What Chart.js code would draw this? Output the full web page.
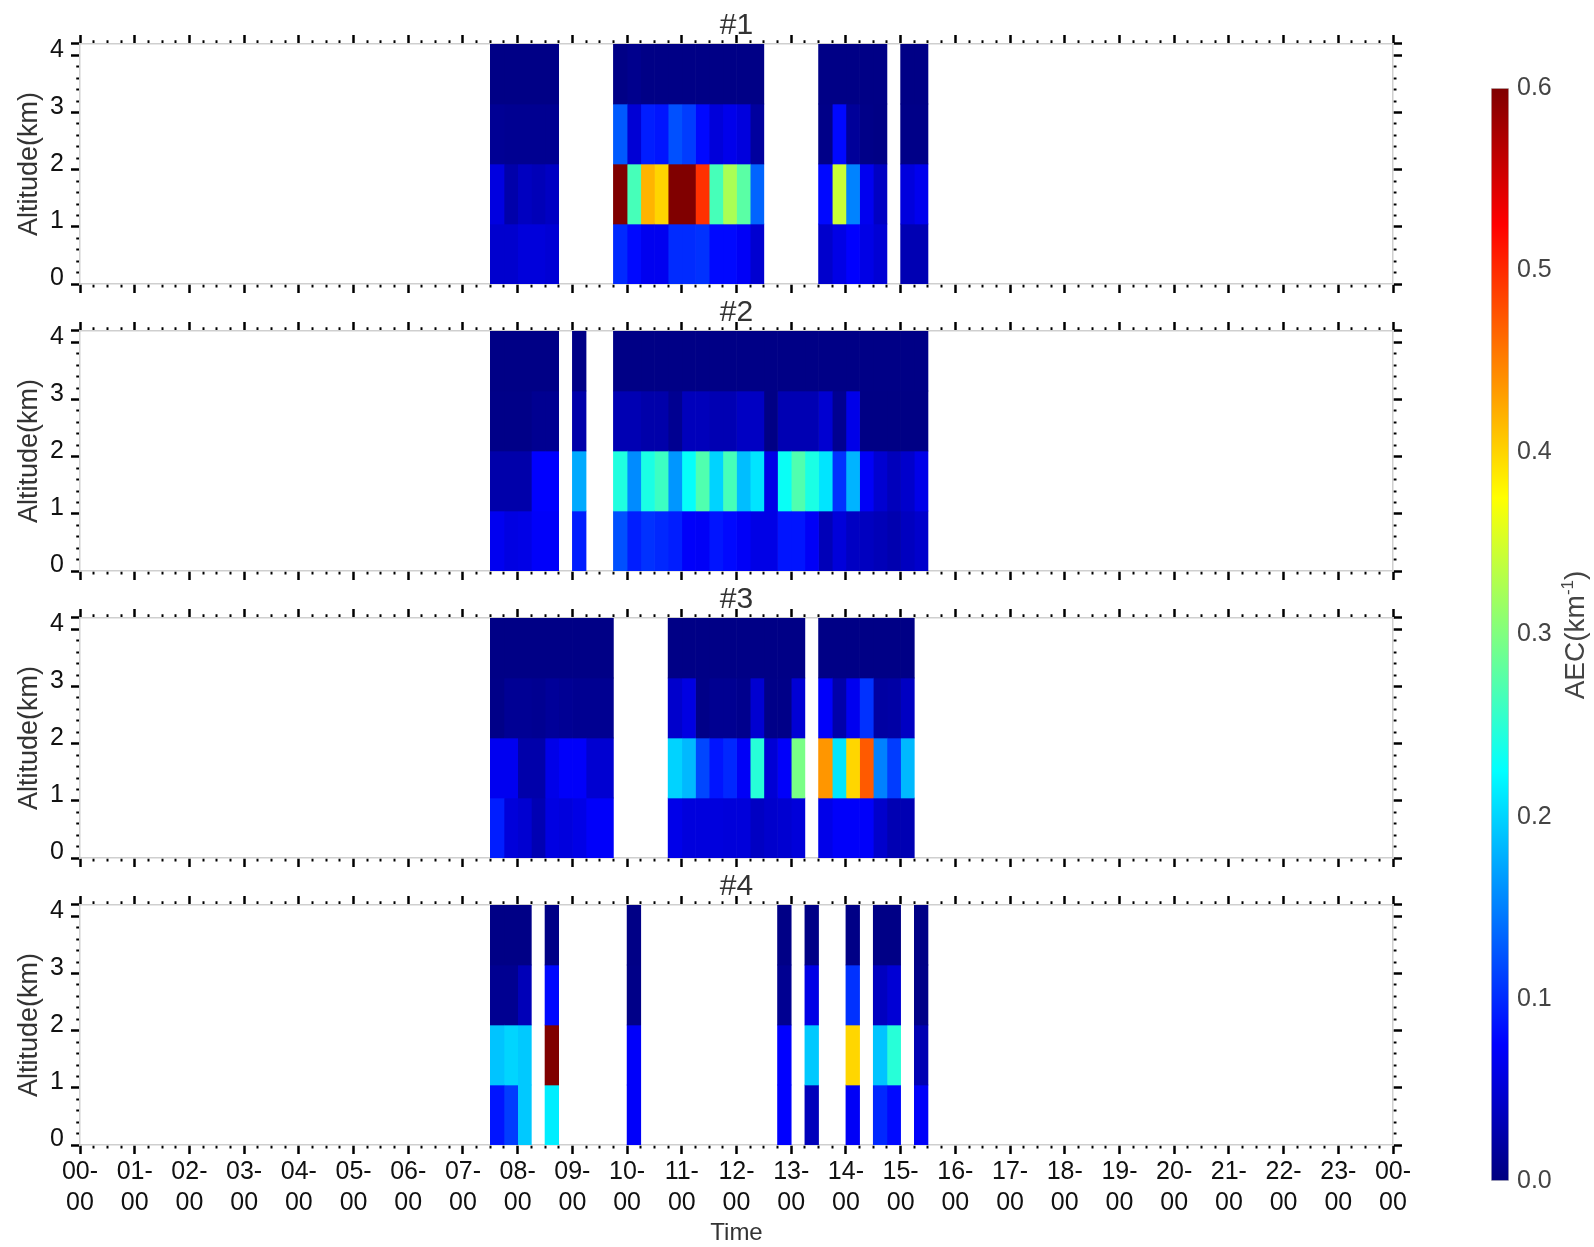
<!DOCTYPE html>
<html>
<head>
<meta charset="utf-8">
<script src="https://cdn.jsdelivr.net/npm/chart.js@4.4.1/dist/chart.umd.min.js"></script>
<style>
  html, body { margin: 0; padding: 0; background: #fff; }
  #wrap { position: relative; width: 1594px; height: 1247px; overflow: hidden; }
  canvas { position: absolute; }
  #cbLabel {
    position: absolute; left: 1475px; top: 620px; width: 200px; height: 30px;
    line-height: 30px; text-align: center; transform: rotate(-90deg);
    font-family: "Liberation Sans", Arial, sans-serif; font-size: 28px; color: #444;
  }
  #cbLabel sup { font-size: 17px; vertical-align: 11px; line-height: 0; }
</style>
</head>
<body>
<div id="wrap">
  <canvas id="p1" width="1594" height="306" style="left:0;top:0"></canvas>
  <canvas id="p2" width="1594" height="306" style="left:0;top:287px"></canvas>
  <canvas id="p3" width="1594" height="306" style="left:0;top:574px"></canvas>
  <canvas id="p4" width="1594" height="386" style="left:0;top:861px"></canvas>
  <canvas id="cb" width="154" height="1150" style="left:1440px;top:60px"></canvas>
  <div id="cbLabel">AEC(km<sup>-1</sup>)</div>
</div>
<script>
// tick labels / categories
const xTickLabels = ['00-00', '01-00', '02-00', '03-00', '04-00', '05-00', '06-00', '07-00',
    '08-00', '09-00', '10-00', '11-00', '12-00', '13-00', '14-00', '15-00', '16-00',
    '17-00', '18-00', '19-00', '20-00', '21-00', '22-00', '23-00', '00-00'];
const rowLabels = ['0-1 km', '1-2 km', '2-3 km', '3-4 km'];
const cbTicks = [0.0, 0.1, 0.2, 0.3, 0.4, 0.5, 0.6];
const slotLen = 0.25; // 15 min bins

// #1
const p1Slots = ['07:30', '07:45', '08:00', '08:15', '08:30',
    '09:45', '10:00', '10:15', '10:30', '10:45', '11:00', '11:15', '11:30', '11:45', '12:00', '12:15',
    '13:30', '13:45', '14:00', '14:15', '14:30', '15:00', '15:15'];
const p1Alt0 = [0.046, 0.046, 0.054, 0.054, 0.05,
    0.099, 0.08, 0.066, 0.066, 0.1, 0.1, 0.104, 0.08, 0.08, 0.07, 0.048,
    0.045, 0.06, 0.075, 0.06, 0.05, 0.03, 0.03];
const p1Alt1 = [0.057, 0.025, 0.038, 0.033, 0.04,
    0.6, 0.266, 0.419, 0.40, 0.6, 0.6, 0.496, 0.266, 0.325, 0.278, 0.134,
    0.08, 0.343, 0.152, 0.066, 0.04, 0.055, 0.065];
const p1Alt2 = [0.012, 0.01, 0.01, 0.01, 0.01,
    0.128, 0.05, 0.092, 0.087, 0.122, 0.11, 0.08, 0.053, 0.063, 0.055, 0.018,
    0.005, 0.08, 0.015, 0.005, 0.003, 0.005, 0.005];
const p1Alt3 = [0.004, 0.004, 0.004, 0.004, 0.004,
    0.004, 0.008, 0.004, 0.004, 0.004, 0.004, 0.004, 0.004, 0.004, 0.004, 0.004,
    0.004, 0.004, 0.004, 0.004, 0.004, 0.004, 0.004];

// #2
const p2Slots = ['07:30', '07:45', '08:00', '08:15', '08:30', '09:00',
    '09:45', '10:00', '10:15', '10:30', '10:45', '11:00', '11:15', '11:30', '11:45', '12:00', '12:15',
    '12:30', '12:45', '13:00', '13:15', '13:30', '13:45', '14:00', '14:15', '14:30', '14:45', '15:00', '15:15'];
const p2Alt0 = [0.066, 0.058, 0.06, 0.072, 0.072, 0.092,
    0.122, 0.092, 0.104, 0.098, 0.092, 0.072, 0.07, 0.087, 0.08, 0.07, 0.06,
    0.06, 0.087, 0.087, 0.07, 0.033, 0.053, 0.04, 0.038, 0.033, 0.028, 0.038, 0.045];
const p2Alt1 = [0.025, 0.025, 0.025, 0.075, 0.075, 0.175,
    0.243, 0.157, 0.24, 0.26, 0.163, 0.228, 0.272, 0.199, 0.266, 0.187, 0.21,
    0.06, 0.23, 0.272, 0.24, 0.21, 0.104, 0.181, 0.07, 0.048, 0.035, 0.045, 0.062];
const p2Alt2 = [0.005, 0.005, 0.005, 0.01, 0.01, 0.025,
    0.03, 0.03, 0.025, 0.025, 0.01, 0.035, 0.035, 0.03, 0.03, 0.04, 0.04,
    0.003, 0.03, 0.03, 0.03, 0.048, 0.01, 0.062, 0.003, 0.003, 0.003, 0.003, 0.003];
const p2Alt3 = [0.004, 0.004, 0.004, 0.004, 0.004, 0.004,
    0.004, 0.004, 0.004, 0.004, 0.004, 0.004, 0.004, 0.004, 0.004, 0.004, 0.004,
    0.004, 0.004, 0.004, 0.004, 0.004, 0.004, 0.004, 0.004, 0.004, 0.004, 0.004, 0.004];

// #3
const p3Slots = ['07:30', '07:45', '08:00', '08:15', '08:30', '08:45', '09:00', '09:15', '09:30',
    '10:45', '11:00', '11:15', '11:30', '11:45', '12:00', '12:15', '12:30', '12:45', '13:00',
    '13:30', '13:45', '14:00', '14:15', '14:30', '14:45', '15:00'];
const p3Alt0 = [0.092, 0.053, 0.048, 0.03, 0.058, 0.055, 0.06, 0.072, 0.072,
    0.062, 0.055, 0.055, 0.055, 0.053, 0.053, 0.04, 0.045, 0.048, 0.053,
    0.062, 0.072, 0.072, 0.072, 0.045, 0.03, 0.03];
const p3Alt1 = [0.066, 0.066, 0.025, 0.025, 0.062, 0.072, 0.072, 0.048, 0.048,
    0.199, 0.184, 0.116, 0.087, 0.098, 0.07, 0.248, 0.05, 0.072, 0.296,
    0.437, 0.21, 0.399, 0.472, 0.151, 0.11, 0.184];
const p3Alt2 = [0.005, 0.012, 0.012, 0.01, 0.015, 0.012, 0.01, 0.01, 0.01,
    0.045, 0.058, 0.005, 0.01, 0.01, 0.008, 0.048, 0.005, 0.005, 0.05,
    0.072, 0.025, 0.066, 0.104, 0.02, 0.022, 0.04];
const p3Alt3 = [0.004, 0.004, 0.004, 0.004, 0.004, 0.004, 0.004, 0.004, 0.004,
    0.004, 0.004, 0.004, 0.004, 0.004, 0.004, 0.004, 0.004, 0.004, 0.004,
    0.004, 0.004, 0.004, 0.004, 0.004, 0.004, 0.004];

// #4
const p4Slots = ['07:30', '07:45', '08:00', '08:30', '10:00', '12:45', '13:15', '14:00', '14:30', '14:45', '15:15'];
const p4Alt0 = [0.087, 0.11, 0.193, 0.215, 0.072, 0.075, 0.035, 0.07, 0.098, 0.08, 0.072];
const p4Alt1 = [0.19, 0.2, 0.193, 0.6, 0.072, 0.075, 0.193, 0.399, 0.19, 0.248, 0.03];
const p4Alt2 = [0.01, 0.01, 0.033, 0.08, 0.005, 0.01, 0.06, 0.104, 0.038, 0.05, 0.005];
const p4Alt3 = [0.004, 0.004, 0.004, 0.004, 0.004, 0.004, 0.004, 0.004, 0.004, 0.004, 0.004];

const vMax = 0.6;
Chart.defaults.font.family = '"Liberation Sans", Arial, sans-serif';

// matlab style jet
function jet(v) {
    const f = Math.min(Math.max(v / vMax, 0), 1);
    const c = k => Math.round(255 * Math.min(Math.max(1.5 - Math.abs(4 * f - k), 0), 1));
    return `rgb(${c(3)},${c(2)},${c(1)})`;
}

function toHours(s) {
    const [h, m] = s.split(':').map(Number);
    return h + m / 60;
}

const isMajor = v => Math.abs(v - Math.round(v)) < 1e-6;

// major ticks long, minor ticks short (dash keeps only the bit next to the frame)
function tickGrid(outerFirst) {
    return {
        drawOnChartArea: false,
        tickLength: 9,
        tickColor: '#000',
        tickWidth: c => (c.tick && !isMajor(c.tick.value)) ? 2 : 2.5,
        tickBorderDash: c => {
            if (!c.tick || isMajor(c.tick.value)) return [];
            return outerFirst ? [0, 5.25, 3, 50] : [3, 50];
        }
    };
}

const frame = { color: '#cfcfcf', width: 1.5 };

function makePanel(id, title, slots, rows, last) {
    const datasets = slots.map((s, j) => {
        const t0 = toHours(s);
        return {
            data: rows.map(() => [t0, t0 + slotLen]),
            backgroundColor: rows.map(r => jet(r[j])),
            borderWidth: 0,
            grouped: false,
            barPercentage: 1,
            categoryPercentage: 1,
            xAxisID: 'x',
            yAxisID: 'rows'
        };
    });

    new Chart(document.getElementById(id), {
        type: 'bar',
        data: { labels: rowLabels, datasets: datasets },
        options: {
            indexAxis: 'y',
            responsive: false,
            animation: false,
            devicePixelRatio: 1,
            layout: { padding: { left: 0, right: 189, top: 0, bottom: 0 } },
            plugins: { legend: { display: false }, tooltip: { enabled: false } },
            scales: {
                x: {
                    type: 'linear', position: 'bottom', min: 0, max: 24,
                    ticks: {
                        stepSize: 0.25, maxTicksLimit: 1000, autoSkip: false, maxRotation: 0,
                        display: last, color: '#111', padding: 3,
                        font: { size: 25, lineHeight: 1.24 },
                        callback: v => isMajor(v) ? [xTickLabels[Math.round(v)].slice(0, 3), xTickLabels[Math.round(v)].slice(3)] : ''
                    },
                    grid: tickGrid(false),
                    border: frame,
                    title: { display: last, text: 'Time', color: '#333', font: { size: 24, lineHeight: 1.1 }, padding: { top: 0, bottom: 0 } },
                    afterFit: s => { s.height = last ? 102 : 22; }
                },
                xTop: {
                    type: 'linear', position: 'top', min: 0, max: 24,
                    ticks: { stepSize: 0.25, maxTicksLimit: 1000, autoSkip: false, display: false },
                    grid: tickGrid(true),
                    border: frame,
                    title: { display: true, text: title, color: '#333', font: { size: 30 }, padding: { top: 8, bottom: 0 } },
                    afterFit: s => { s.height = 44; }
                },
                y: {
                    type: 'linear', position: 'left', min: 0, max: 4,
                    ticks: {
                        stepSize: 0.2, maxTicksLimit: 1000, autoSkip: false, color: '#111', padding: 7,
                        font: { size: 25 },
                        callback: v => isMajor(v) ? String(Math.round(v)) : ''
                    },
                    grid: tickGrid(true),
                    border: frame,
                    title: { display: true, text: 'Altitude(km)', color: '#333', font: { size: 27 }, padding: { top: 13, bottom: 0 } },
                    afterFit: s => { s.width = 80; }
                },
                yRight: {
                    type: 'linear', position: 'right', min: 0, max: 4,
                    ticks: { stepSize: 0.2, maxTicksLimit: 1000, autoSkip: false, display: false },
                    grid: tickGrid(false),
                    border: frame,
                    afterFit: s => { s.width = 12; }
                },
                rows: {
                    type: 'category', axis: 'y', position: 'left', labels: rowLabels,
                    reverse: true, offset: true, display: false
                }
            }
        }
    });
}

makePanel('p1', '#1', p1Slots, [p1Alt0, p1Alt1, p1Alt2, p1Alt3], false);
makePanel('p2', '#2', p2Slots, [p2Alt0, p2Alt1, p2Alt2, p2Alt3], false);
makePanel('p3', '#3', p3Slots, [p3Alt0, p3Alt1, p3Alt2, p3Alt3], false);
makePanel('p4', '#4', p4Slots, [p4Alt0, p4Alt1, p4Alt2, p4Alt3], true);

// colorbar
new Chart(document.getElementById('cb'), {
    type: 'bar',
    data: {
        labels: ['AEC'],
        datasets: [{
            data: [[cbTicks[0], cbTicks[cbTicks.length - 1]]],
            backgroundColor: ctx => {
                const area = ctx.chart.chartArea;
                if (!area) return '#000080';
                const g = ctx.chart.ctx.createLinearGradient(0, area.bottom, 0, area.top);
                for (let i = 0; i <= 64; i++) g.addColorStop(i / 64, jet(vMax * i / 64));
                return g;
            },
            borderColor: '#c8c8c8',
            borderWidth: 1,
            borderSkipped: false,
            barPercentage: 1,
            categoryPercentage: 1
        }]
    },
    options: {
        responsive: false,
        animation: false,
        devicePixelRatio: 1,
        layout: { padding: { left: 51, right: 0, top: 28, bottom: 29 } },
        plugins: { legend: { display: false }, tooltip: { enabled: false } },
        scales: {
            x: { display: false },
            y: {
                position: 'right', min: 0, max: vMax,
                afterBuildTicks: s => { s.ticks = cbTicks.map(v => ({ value: v })); },
                ticks: { color: '#444', padding: 8, font: { size: 25 }, callback: v => v.toFixed(1) },
                grid: { display: false, drawTicks: false },
                border: { display: false },
                afterFit: s => { s.width = 85; }
            }
        }
    }
});
</script>
</body>
</html>
